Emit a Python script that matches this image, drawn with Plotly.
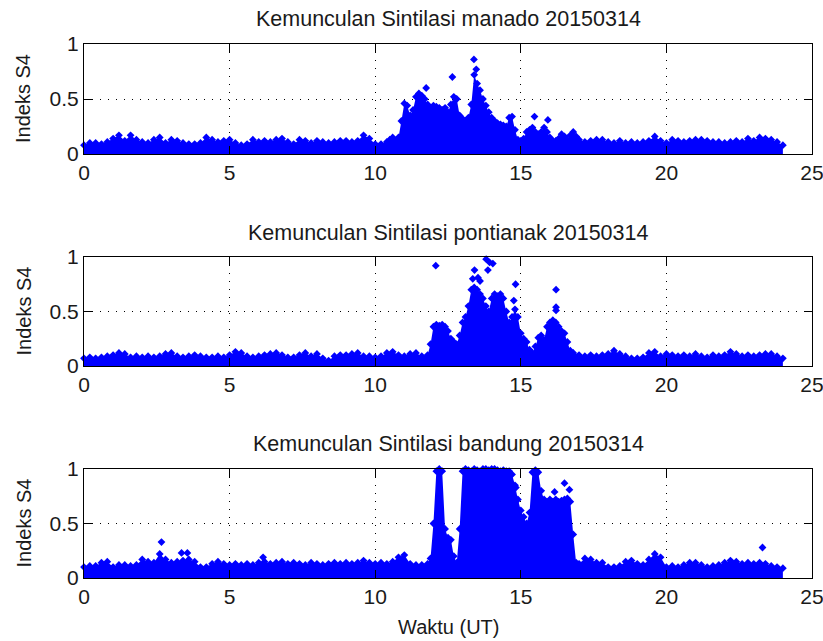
import plotly.graph_objects as go

# ---------------- data (hours UT, S4 index) ----------------
manado_t = [0.0, 0.2, 0.4, 0.6, 0.8, 1.0, 1.2, 1.4, 1.6, 1.8,
            2.0, 2.2, 2.4, 2.6, 2.8, 3.0, 3.2, 3.4, 3.6, 3.8,
            4.0, 4.2, 4.4, 4.6, 4.8, 5.0, 5.2, 5.4, 5.6, 5.8,
            6.0, 6.2, 6.4, 6.6, 6.8, 7.0, 7.2, 7.4, 7.6, 7.8,
            8.0, 8.2, 8.4, 8.6, 8.8, 9.0, 9.2, 9.4, 9.6, 9.8,
            10.0, 10.2, 10.4,
            10.5, 10.6, 10.7, 10.8, 10.9, 11.0, 11.1, 11.2, 11.3, 11.4,
            11.5, 11.6, 11.7, 11.8, 11.9, 12.0, 12.1, 12.2, 12.3, 12.4,
            12.5, 12.6, 12.7, 12.8, 12.9, 13.0, 13.1, 13.2, 13.3, 13.4,
            13.5, 13.6, 13.7, 13.8, 13.9, 14.0, 14.1, 14.2, 14.3, 14.4,
            14.5, 14.6, 14.7, 14.8, 14.9, 15.0, 15.1, 15.2, 15.3, 15.4,
            15.5, 15.6, 15.7, 15.8, 15.9, 16.0, 16.1, 16.2, 16.3, 16.4,
            16.5, 16.6, 16.7, 16.8, 16.9, 17.0,
            17.2, 17.4, 17.6, 17.8, 18.0, 18.2, 18.4, 18.6, 18.8, 19.0,
            19.2, 19.4, 19.6, 19.8, 20.0, 20.2, 20.4, 20.6, 20.8, 21.0,
            21.2, 21.4, 21.6, 21.8, 22.0, 22.2, 22.4, 22.6, 22.8, 23.0,
            23.2, 23.4, 23.6, 23.8, 24.0]
manado_s4 = [0.08, 0.10, 0.10, 0.09, 0.11, 0.14, 0.17, 0.12, 0.17, 0.13,
             0.11, 0.10, 0.13, 0.15, 0.10, 0.13, 0.12, 0.10, 0.09, 0.09,
             0.10, 0.15, 0.13, 0.11, 0.12, 0.13, 0.10, 0.08, 0.09, 0.13,
             0.11, 0.12, 0.11, 0.13, 0.14, 0.11, 0.09, 0.13, 0.12, 0.10,
             0.12, 0.11, 0.10, 0.11, 0.12, 0.12, 0.11, 0.12, 0.17, 0.14,
             0.09, 0.09, 0.11,
             0.13, 0.15, 0.12, 0.15, 0.30, 0.46, 0.44, 0.35, 0.40, 0.52,
             0.55, 0.53, 0.50, 0.45, 0.42, 0.44, 0.43, 0.42, 0.40, 0.42,
             0.38, 0.45, 0.52, 0.50, 0.35, 0.32, 0.30, 0.33, 0.45, 0.72,
             0.64, 0.58, 0.50, 0.44, 0.38, 0.33, 0.30, 0.28, 0.27, 0.26,
             0.25, 0.33, 0.34, 0.22, 0.13, 0.12, 0.14, 0.20, 0.22, 0.24,
             0.20, 0.18, 0.20, 0.24, 0.20, 0.15, 0.12, 0.12, 0.14, 0.18,
             0.16, 0.13, 0.17, 0.20, 0.16, 0.13,
             0.11, 0.12, 0.13, 0.13, 0.11, 0.10, 0.12, 0.10, 0.11, 0.10,
             0.11, 0.12, 0.16, 0.12, 0.10, 0.13, 0.12, 0.11, 0.12, 0.13,
             0.13, 0.12, 0.11, 0.11, 0.10, 0.11, 0.12, 0.11, 0.14, 0.12,
             0.15, 0.14, 0.13, 0.11, 0.08]
manado_peak_t = [11.75, 12.65, 13.39, 13.47, 15.47, 15.93]
manado_peak_s4 = [0.60, 0.70, 0.86, 0.77, 0.34, 0.31]

pontianak_t = [0.0, 0.2, 0.4, 0.6, 0.8, 1.0, 1.2, 1.4, 1.6, 1.8,
               2.0, 2.2, 2.4, 2.6, 2.8, 3.0, 3.2, 3.4, 3.6, 3.8,
               4.0, 4.2, 4.4, 4.6, 4.8, 5.0, 5.2, 5.4, 5.6, 5.8,
               6.0, 6.2, 6.4, 6.6, 6.8, 7.0, 7.2, 7.4, 7.6, 7.8,
               8.0, 8.2, 8.4, 8.6, 8.8, 9.0, 9.2, 9.4, 9.6, 9.8,
               10.0, 10.2, 10.4, 10.6, 10.8, 11.0, 11.2, 11.4, 11.6, 11.8,
               11.9, 12.0, 12.1, 12.2, 12.3, 12.4, 12.5, 12.6, 12.7, 12.8,
               12.9, 13.0, 13.1, 13.2, 13.3, 13.4, 13.5, 13.6, 13.7, 13.8,
               13.9, 14.0, 14.1, 14.2, 14.3, 14.4, 14.5, 14.6, 14.7, 14.8,
               14.9, 15.0, 15.1, 15.2, 15.3, 15.4, 15.5, 15.6, 15.7, 15.8,
               15.9, 16.0, 16.1, 16.2, 16.3, 16.4, 16.5, 16.6, 16.7, 16.8,
               17.0, 17.2, 17.4, 17.6, 17.8, 18.0, 18.2, 18.4, 18.6, 18.8,
               19.0, 19.2, 19.4, 19.6, 19.8, 20.0, 20.2, 20.4, 20.6, 20.8,
               21.0, 21.2, 21.4, 21.6, 21.8, 22.0, 22.2, 22.4, 22.6, 22.8,
               23.0, 23.2, 23.4, 23.6, 23.8, 24.0]
pontianak_s4 = [0.07, 0.08, 0.07, 0.08, 0.09, 0.10, 0.12, 0.11, 0.08, 0.09,
                0.08, 0.09, 0.08, 0.09, 0.11, 0.12, 0.09, 0.08, 0.09, 0.10,
                0.09, 0.08, 0.08, 0.09, 0.08, 0.10, 0.13, 0.12, 0.09, 0.08,
                0.09, 0.10, 0.11, 0.12, 0.10, 0.08, 0.08, 0.10, 0.12, 0.09,
                0.11, 0.07, 0.05, 0.09, 0.10, 0.10, 0.11, 0.12, 0.09, 0.09,
                0.08, 0.09, 0.12, 0.13, 0.10, 0.09, 0.11, 0.12, 0.09, 0.10,
                0.20, 0.36, 0.38, 0.37, 0.38, 0.36, 0.32, 0.25, 0.22, 0.20,
                0.28, 0.40, 0.45, 0.55, 0.70, 0.72, 0.70, 0.66, 0.62, 0.55,
                0.50, 0.62, 0.66, 0.64, 0.66, 0.62, 0.50, 0.40, 0.45, 0.52,
                0.45, 0.30, 0.25, 0.22, 0.15, 0.12, 0.18, 0.26, 0.28, 0.24,
                0.36, 0.40, 0.42, 0.40, 0.36, 0.32, 0.30, 0.22, 0.14, 0.12,
                0.10, 0.09, 0.10, 0.09, 0.10, 0.11, 0.14, 0.11, 0.09, 0.07,
                0.07, 0.08, 0.12, 0.13, 0.09, 0.11, 0.10, 0.09, 0.10, 0.09,
                0.11, 0.09, 0.08, 0.10, 0.09, 0.10, 0.13, 0.11, 0.09, 0.10,
                0.09, 0.10, 0.11, 0.11, 0.09, 0.07]
pontianak_peak_t = [12.08, 13.35, 13.41, 13.53, 13.60, 13.81, 13.87, 13.93, 14.04,
                    14.76, 14.82, 16.21, 16.21, 16.21]
pontianak_peak_s4 = [0.92, 0.80, 0.88, 0.81, 0.78, 0.98, 0.88, 0.95, 0.94,
                     0.60, 0.75, 0.70, 0.54, 0.51]

bandung_t = [0.0, 0.2, 0.4, 0.6, 0.8, 1.0, 1.2, 1.4, 1.6, 1.8,
             2.0, 2.2, 2.4, 2.6, 2.8, 3.0, 3.2, 3.4, 3.6, 3.8,
             4.0, 4.2, 4.4, 4.6, 4.8, 5.0, 5.2, 5.4, 5.6, 5.8,
             6.0, 6.2, 6.4, 6.6, 6.8, 7.0, 7.2, 7.4, 7.6, 7.8,
             8.0, 8.2, 8.4, 8.6, 8.8, 9.0, 9.2, 9.4, 9.6, 9.8,
             10.0, 10.2, 10.4, 10.6, 10.8, 11.0, 11.2, 11.4, 11.6, 11.8,
             11.9, 12.0, 12.1, 12.2, 12.3, 12.4, 12.5, 12.6, 12.7, 12.8,
             12.9, 13.0, 13.1, 13.2, 13.3, 13.4, 13.5, 13.6, 13.7, 13.8,
             13.9, 14.0, 14.1, 14.2, 14.3, 14.4, 14.5, 14.6, 14.7, 14.8,
             14.9, 15.0, 15.1, 15.2, 15.3, 15.4, 15.5, 15.6, 15.7, 15.8,
             15.9, 16.0, 16.1, 16.2, 16.3, 16.4, 16.5, 16.6, 16.7, 16.8,
             16.9,
             17.0, 17.2, 17.4, 17.6, 17.8, 18.0, 18.2, 18.4, 18.6, 18.8,
             19.0, 19.2, 19.4, 19.6, 19.8, 20.0, 20.2, 20.4, 20.6, 20.8,
             21.0, 21.2, 21.4, 21.6, 21.8, 22.0, 22.2, 22.4, 22.6, 22.8,
             23.0, 23.2, 23.4, 23.6, 23.8, 24.0]
bandung_s4 = [0.10, 0.11, 0.11, 0.14, 0.15, 0.10, 0.12, 0.12, 0.11, 0.12,
              0.17, 0.15, 0.14, 0.22, 0.17, 0.14, 0.15, 0.16, 0.17, 0.15,
              0.10, 0.10, 0.13, 0.15, 0.13, 0.12, 0.13, 0.12, 0.13, 0.12,
              0.14, 0.15, 0.13, 0.14, 0.15, 0.13, 0.14, 0.13, 0.12, 0.14,
              0.13, 0.12, 0.13, 0.14, 0.13, 0.14, 0.13, 0.14, 0.16, 0.14,
              0.13, 0.14, 0.13, 0.15, 0.19, 0.21, 0.13, 0.12, 0.12, 0.13,
              0.18, 0.50, 0.98, 1.00, 0.98, 0.45, 0.37, 0.35, 0.20, 0.14,
              0.45, 0.98, 1.00, 0.99, 0.98, 1.00, 0.99, 0.98, 1.00, 1.00,
              0.99, 1.00, 1.00, 0.99, 0.98, 0.99, 0.98, 0.98, 0.95, 0.85,
              0.72, 0.62, 0.56, 0.50, 0.60, 0.97, 0.99, 0.97, 0.80, 0.72,
              0.70, 0.72, 0.70, 0.72, 0.70, 0.71, 0.72, 0.73, 0.70, 0.40,
              0.14,
              0.13, 0.18, 0.17, 0.14, 0.14, 0.10, 0.10, 0.11, 0.15, 0.16,
              0.13, 0.12, 0.17, 0.22, 0.19, 0.10, 0.11, 0.10, 0.12, 0.14,
              0.14, 0.12, 0.10, 0.11, 0.12, 0.14, 0.16, 0.15, 0.13, 0.14,
              0.13, 0.14, 0.13, 0.11, 0.10, 0.09]
bandung_peak_t = [2.66, 3.35, 3.55, 6.15, 14.83, 16.16, 16.50, 16.67, 23.30]
bandung_peak_s4 = [0.33, 0.23, 0.23, 0.19, 0.83, 0.79, 0.87, 0.81, 0.28]

stations = ["manado", "pontianak", "bandung"]
date_label = "20150314"
x_ticks = [0, 5, 10, 15, 20, 25]
y_ticks = [0, 0.5, 1]

series = [
    (manado_t, manado_s4, manado_peak_t, manado_peak_s4),
    (pontianak_t, pontianak_s4, pontianak_peak_t, pontianak_peak_s4),
    (bandung_t, bandung_s4, bandung_peak_t, bandung_peak_s4),
]
for a, b, c, d in series:
    assert len(a) == len(b), (len(a), len(b))
    assert len(c) == len(d)

# ---------------- figure ----------------
W, H = 823, 641
BLUE = "#0000FF"
FONT = "Liberation Sans, Arial, Helvetica, sans-serif"
TXT = "#1a1a1a"

left_px, right_px = 84, 812
panels_px = [(44, 154), (257, 366), (469, 578)]   # top, bottom of each axes box
title_px = [19, 233, 444]

fig = go.Figure()
annotations = []
for i, ((t, s, pt, ps), (top, bot)) in enumerate(zip(series, panels_px)):
    sfx = "" if i == 0 else str(i + 1)
    xa, ya = "x" + sfx, "y" + sfx
    fig.add_trace(go.Scatter(
        x=t, y=s, mode="markers", xaxis=xa, yaxis=ya,
        fill="tozeroy", fillcolor=BLUE,
        marker=dict(symbol="diamond", size=6, color=BLUE, line=dict(width=0)),
        cliponaxis=False, showlegend=False, hoverinfo="x+y"))
    fig.add_trace(go.Scatter(
        x=pt, y=ps, mode="markers", xaxis=xa, yaxis=ya,
        marker=dict(symbol="diamond", size=6, color=BLUE, line=dict(width=0)),
        cliponaxis=False, showlegend=False, hoverinfo="x+y"))

    axis_common = dict(
        showline=True, linecolor="black", linewidth=1, mirror="ticks",
        ticks="inside", ticklen=8, tickcolor="black", tickwidth=1,
        showgrid=True, gridcolor="black", gridwidth=1, griddash="1px,7px",
        zeroline=False, tickfont=dict(family=FONT, size=21, color=TXT),
        fixedrange=True, automargin=False, ticklabeloverflow="allow",
    )
    xdom = [left_px / W, right_px / W]
    ydom = [(H - bot) / H, (H - top) / H]
    fig.layout["xaxis" + sfx] = dict(axis_common, domain=xdom, range=[0, 25],
                                     tickvals=x_ticks, anchor=ya)
    fig.layout["yaxis" + sfx] = dict(axis_common, domain=ydom, range=[0, 1],
                                     tickvals=y_ticks, anchor=xa)

    annotations.append(dict(
        text=f"Kemunculan Sintilasi {stations[i]} {date_label}",
        x=(left_px + right_px) / 2 / W, y=(H - title_px[i]) / H,
        xref="paper", yref="paper", xanchor="center", yanchor="middle",
        showarrow=False, font=dict(family=FONT, size=21.5, color=TXT)))
    annotations.append(dict(
        text="Indeks S4", textangle=-90,
        x=23 / W, y=(H - (top + bot) / 2) / H,
        xref="paper", yref="paper", xanchor="center", yanchor="middle",
        showarrow=False, font=dict(family=FONT, size=20, color=TXT)))

annotations.append(dict(
    text="Waktu (UT)", x=(left_px + right_px) / 2 / W, y=(H - 627) / H,
    xref="paper", yref="paper", xanchor="center", yanchor="middle",
    showarrow=False, font=dict(family=FONT, size=20, color=TXT)))

fig.update_layout(
    width=W, height=H,
    margin=dict(l=0, r=0, t=0, b=0, pad=0, autoexpand=False),
    paper_bgcolor="white", plot_bgcolor="white",
    annotations=annotations, showlegend=False,
)

fig.write_html(
    "out.html",
    config={"displayModeBar": False},
    post_script="document.body.style.margin='0';document.body.style.overflow='hidden';",
)
